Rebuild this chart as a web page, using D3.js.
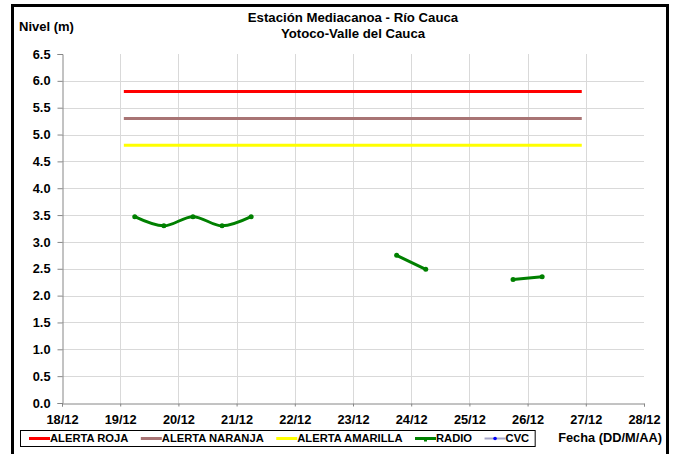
<!DOCTYPE html>
<html>
<head>
<meta charset="utf-8">
<script src="https://cdn.jsdelivr.net/npm/d3@7"></script>
<style>
  body { margin: 0; background: #fff; }
  text { font-family: 'Liberation Sans', Arial, sans-serif; font-weight: bold; fill: #000; }
</style>
</head>
<body>
<div id="chart"></div>
<script>
// ========= Data ========= //
const titleLines = ['Estación Mediacanoa - Río Cauca', 'Yotoco-Valle del Cauca'];
const yLabel = 'Nivel (m)';
const xLabel = 'Fecha (DD/M/AA)';

const dateExtent = ['2010-12-18 00:00', '2010-12-28 00:00'];
const levelTicks = [0, 0.5, 1, 1.5, 2, 2.5, 3, 3.5, 4, 4.5, 5, 5.5, 6, 6.5];

const alertNames = ['ALERTA ROJA', 'ALERTA NARANJA', 'ALERTA AMARILLA'];
const alertLevels = [5.8, 5.3, 4.8];
const alertPeriod = ['2010-12-19 01:30', '2010-12-26 22:20'];

const radioTimes = [
  '2010-12-19 06:00', '2010-12-19 18:00', '2010-12-20 06:00', '2010-12-20 18:00',
  '2010-12-21 06:00', '2010-12-21 18:00', '2010-12-22 06:00', '2010-12-22 18:00',
  '2010-12-23 06:00', '2010-12-23 18:00', '2010-12-24 06:00', '2010-12-24 18:00',
  '2010-12-25 06:00', '2010-12-25 18:00', '2010-12-26 06:00'
];
const radioLevels = [3.47, 3.30, 3.47, 3.30, 3.47, null, null, null, null, 2.75, 2.49, null, null, 2.30, 2.35];

const cvcTimes = [];
const cvcLevels = [];

const legendNames = ['ALERTA ROJA', 'ALERTA NARANJA', 'ALERTA AMARILLA', 'RADIO', 'CVC'];

// ========= Setup ========= //
const width = 684, height = 454;
const margin = { left: 62, right: 40, top: 54, bottom: 51 };
const parse = d3.timeParse('%Y-%m-%d %H:%M');

const colors = d3.scaleOrdinal()
  .domain(legendNames)
  .range(['#ff0000', '#a87474', '#ffff00', '#008000', '#a6a6c8']);

const svg = d3.select('#chart').append('svg')
  .attr('width', width)
  .attr('height', height);

const x = d3.scaleTime()
  .domain(dateExtent.map(parse))
  .range([margin.left, 644]);

const y = d3.scaleLinear()
  .domain([0, 6.5])
  .range([403, margin.top]);

// ========= Frame ========= //
svg.append('rect')
  .attr('x', 12.5).attr('y', 5.5)
  .attr('width', 655).attr('height', 470)
  .attr('fill', '#fff')
  .attr('stroke', '#000')
  .attr('stroke-width', 3);

// ========= Grid ========= //
const dayTicks = d3.timeDay.range(parse(dateExtent[0]), d3.timeDay.offset(parse(dateExtent[1]), 1));

svg.append('g')
  .selectAll('line')
  .data(dayTicks.slice(1, -1))
  .join('line')
  .attr('x1', (d) => Math.round(x(d)) + 0.5)
  .attr('x2', (d) => Math.round(x(d)) + 0.5)
  .attr('y1', y(6.5)).attr('y2', y(0))
  .attr('stroke', '#d9d9d9');

svg.append('g')
  .selectAll('line')
  .data(levelTicks.slice(1, -1))
  .join('line')
  .attr('x1', x.range()[0]).attr('x2', x.range()[1])
  .attr('y1', (d) => Math.round(y(d)) + 0.5)
  .attr('y2', (d) => Math.round(y(d)) + 0.5)
  .attr('stroke', '#d9d9d9');

// ========= Axes ========= //
const yAxis = svg.append('g')
  .attr('transform', `translate(${x.range()[0] + 0.5},0)`)
  .call(d3.axisLeft(y).tickValues(levelTicks).tickFormat(d3.format('.1f')).tickSizeOuter(0).tickSize(5).tickPadding(7));

const xAxis = svg.append('g')
  .attr('transform', `translate(0,${y(0) + 0.5})`)
  .call(d3.axisBottom(x).tickValues(dayTicks).tickFormat(d3.timeFormat('%d/%m')).tickSizeOuter(0).tickSize(3).tickPadding(8));

[yAxis, xAxis].forEach((axis) => {
  axis.select('.domain').attr('stroke', '#868686');
  axis.selectAll('.tick line').attr('stroke', '#868686');
  axis.selectAll('.tick text')
    .attr('font-size', 12.8)
    .attr('font-family', null)
    .attr('fill', '#000');
});

// ========= Alert lines ========= //
const alertLine = d3.line()
  .x((d) => x(d.time))
  .y((d) => y(d.level));

svg.append('g')
  .selectAll('path')
  .data(alertNames)
  .join('path')
  .attr('fill', 'none')
  .attr('stroke', (d) => colors(d))
  .attr('stroke-width', 3)
  .attr('d', (d, i) => alertLine(alertPeriod.map((t) => ({ time: parse(t), level: alertLevels[i] }))));

// ========= Radio series ========= //
const radioData = radioTimes.map((t, i) => ({ time: parse(t), level: radioLevels[i] }));

const seriesLine = d3.line()
  .defined((d) => d.level != null)
  .x((d) => x(d.time))
  .y((d) => y(d.level))
  .curve(d3.curveCatmullRom);

svg.append('path')
  .datum(radioData)
  .attr('fill', 'none')
  .attr('stroke', colors('RADIO'))
  .attr('stroke-width', 3)
  .attr('d', seriesLine);

svg.append('g')
  .selectAll('circle')
  .data(radioData.filter((d) => d.level != null))
  .join('circle')
  .attr('cx', (d) => x(d.time))
  .attr('cy', (d) => y(d.level))
  .attr('r', 2.5)
  .attr('fill', colors('RADIO'));

// CVC has no readings in this period
svg.append('path')
  .datum(cvcTimes.map((t, i) => ({ time: parse(t), level: cvcLevels[i] })))
  .attr('fill', 'none')
  .attr('stroke', colors('CVC'))
  .attr('d', seriesLine);

// ========= Titles ========= //
svg.append('text')
  .attr('text-anchor', 'middle')
  .attr('font-size', 13.2)
  .selectAll('tspan')
  .data(titleLines)
  .join('tspan')
  .attr('x', (x.range()[0] + x.range()[1]) / 2)
  .attr('y', (d, i) => 22 + i * 16)
  .text((d) => d);

svg.append('text')
  .attr('x', 19).attr('y', 31)
  .attr('font-size', 13)
  .text(yLabel);

svg.append('text')
  .attr('x', 662).attr('y', 442)
  .attr('text-anchor', 'end')
  .attr('font-size', 12.8)
  .text(xLabel);

// ========= Legend ========= //
const legend = svg.append('g');
const legendBox = legend.append('rect')
  .attr('y', 430.5).attr('height', 16)
  .attr('fill', '#fff')
  .attr('stroke', '#000');

let cursor = 29;
legendNames.forEach((name) => {
  const item = legend.append('g');
  const midY = 438.5;
  item.append('line')
    .attr('x1', cursor).attr('x2', cursor + 21)
    .attr('y1', midY).attr('y2', midY)
    .attr('stroke', colors(name))
    .attr('stroke-width', name === 'CVC' ? 2 : 3);
  if (name === 'RADIO') {
    item.append('rect')
      .attr('x', cursor + 9).attr('y', midY - 1)
      .attr('width', 3).attr('height', 4)
      .attr('fill', colors(name));
  }
  if (name === 'CVC') {
    item.append('circle')
      .attr('cx', cursor + 10.5).attr('cy', midY)
      .attr('r', 1.8)
      .attr('fill', '#0000ff');
  }
  const label = item.append('text')
    .attr('x', cursor + 21).attr('y', 442)
    .attr('font-size', 11.2)
    .text(name);
  cursor += 21 + label.node().getComputedTextLength() + 12.5;
});

legendBox
  .attr('x', 20.5)
  .attr('width', cursor - 12.5 + 6 - 20.5);
</script>
</body>
</html>
